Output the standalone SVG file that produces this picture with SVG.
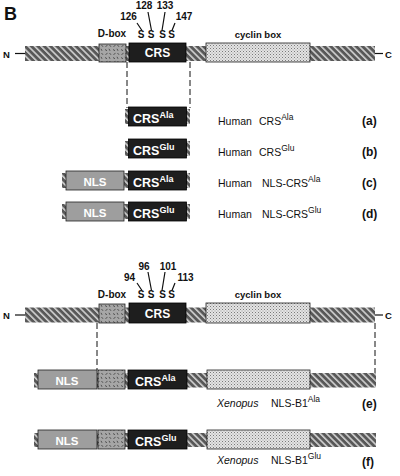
<svg xmlns="http://www.w3.org/2000/svg" width="400" height="476" viewBox="0 0 400 476">
<defs>
<pattern id="hatch" width="4.5" height="6" patternUnits="userSpaceOnUse" patternTransform="rotate(-45)">
<rect width="4.5" height="6" fill="#585858"/>
<rect width="1.6" height="6" fill="#d2d2d2"/>
</pattern>
<pattern id="dbox" width="8" height="8" patternUnits="userSpaceOnUse">
<rect width="8" height="8" fill="#a6a6a6"/>
<path d="M1 1.5l2 1.2M5 0.8l1 2M1.5 6.5l2-1.2M5.5 5l1.5 1.8" stroke="#3a3a3a" stroke-width="0.8" fill="none"/>
</pattern>
<pattern id="dots" width="3" height="3" patternUnits="userSpaceOnUse">
<rect width="3" height="3" fill="#e4e4e4"/>
<rect width="1" height="1" fill="#7a7a7a"/>
<rect x="1.5" y="1.5" width="1" height="1" fill="#9a9a9a"/>
</pattern>
</defs>
<style>
.bar{fill:url(#hatch)}
.db{fill:url(#dbox);stroke:#222;stroke-width:0.8}
.cy{fill:url(#dots);stroke:#222;stroke-width:0.8}
.crs{fill:#1e1e1e;stroke:#000;stroke-width:0.8}
.nls{fill:#9e9e9e;stroke:#222;stroke-width:0.8}
.wt{font-family:"Liberation Sans",Arial,sans-serif;font-weight:bold;fill:#fff}
.bt{font-family:"Liberation Sans",Arial,sans-serif;font-weight:bold;fill:#111}
.rt{font-family:"Liberation Sans",Arial,sans-serif;font-size:10.5px;fill:#111}
.ln{stroke:#111;stroke-width:1.2;fill:none}
.dash{stroke:#111;stroke-width:1;stroke-dasharray:6 3;fill:none}
</style>
<text class="bt" x="4" y="20" font-size="18">B</text>
<g id="human-cyclin">
<line class="ln" x1="15" y1="53.5" x2="25" y2="53.5"/>
<text class="bt" x="3" y="57.5" font-size="9.5">N</text>
<rect class="bar" x="25" y="46" width="350" height="15"/>
<line class="ln" x1="375" y1="53.5" x2="383" y2="53.5"/>
<text class="bt" x="385" y="57.5" font-size="9.5">C</text>
<rect class="db" x="99" y="44" width="27" height="18"/>
<rect class="crs" x="129" y="43" width="57" height="19"/>
<text class="wt" x="157.5" y="57" font-size="12" text-anchor="middle">CRS</text>
<rect class="cy" x="206" y="43" width="104" height="19"/>
<text class="bt" x="112" y="37" font-size="10" text-anchor="middle">D-box</text>
<text class="bt" x="258" y="38" font-size="9.5" text-anchor="middle">cyclin box</text>
<g class="bt" font-size="10" text-anchor="middle">
<text x="141" y="38">S</text><text x="151" y="38">S</text><text x="162.5" y="38">S</text><text x="171.5" y="38">S</text>
<text x="128.5" y="20">126</text><text x="144" y="9">128</text><text x="165" y="9">133</text><text x="184" y="20">147</text>
</g>
<path class="ln" d="M137 23L142 30.5M148 12L151.5 30.5M165 12L162 30.5M175 23L172 30.5"/>
</g>
<g id="row-a">
<rect class="bar" x="125" y="109" width="4" height="15"/>
<rect class="bar" x="186" y="109" width="4" height="15"/>
<rect class="crs" x="128.5" y="107" width="58" height="19"/>
<text class="wt" x="133" y="123" font-size="12.5">CRS<tspan dy="-5" font-size="9">Ala</tspan></text>
<text class="rt" x="218" y="125">Human<tspan x="259">CRS</tspan><tspan dy="-5" font-size="8.5">Ala</tspan></text>
<text class="bt" x="362" y="125" font-size="12">(a)</text>
</g>
<g id="row-b">
<rect class="bar" x="125" y="141" width="4" height="15"/>
<rect class="bar" x="186" y="141" width="4" height="15"/>
<rect class="crs" x="128.5" y="139" width="58" height="19"/>
<text class="wt" x="133" y="155" font-size="12.5">CRS<tspan dy="-5" font-size="9">Glu</tspan></text>
<text class="rt" x="218" y="156">Human<tspan x="259">CRS</tspan><tspan dy="-5" font-size="8.5">Glu</tspan></text>
<text class="bt" x="362" y="156" font-size="12">(b)</text>
</g>
<g id="row-c">
<rect class="bar" x="62" y="173" width="128" height="15"/>
<rect class="nls" x="66" y="171" width="58" height="19"/>
<text class="wt" x="95" y="185.5" font-size="11.5" text-anchor="middle">NLS</text>
<rect class="crs" x="128.5" y="171" width="58" height="19"/>
<text class="wt" x="133" y="187" font-size="12.5">CRS<tspan dy="-5" font-size="9">Ala</tspan></text>
<text class="rt" x="218" y="187">Human<tspan x="262">NLS-CRS</tspan><tspan dy="-5" font-size="8.5">Ala</tspan></text>
<text class="bt" x="362" y="187" font-size="12">(c)</text>
</g>
<g id="row-d">
<rect class="bar" x="62" y="204" width="128" height="15"/>
<rect class="nls" x="66" y="202" width="58" height="19"/>
<text class="wt" x="95" y="216.5" font-size="11.5" text-anchor="middle">NLS</text>
<rect class="crs" x="128.5" y="202" width="58" height="19"/>
<text class="wt" x="133" y="218" font-size="12.5">CRS<tspan dy="-5" font-size="9">Glu</tspan></text>
<text class="rt" x="218" y="218">Human<tspan x="262">NLS-CRS</tspan><tspan dy="-5" font-size="8.5">Glu</tspan></text>
<text class="bt" x="362" y="218" font-size="12">(d)</text>
</g>
<g id="xenopus-cyclin">
<line class="ln" x1="15" y1="315" x2="25" y2="315"/>
<text class="bt" x="3" y="319" font-size="9.5">N</text>
<rect class="bar" x="25" y="307.5" width="350" height="15"/>
<line class="ln" x1="375" y1="315" x2="383" y2="315"/>
<text class="bt" x="385" y="319" font-size="9.5">C</text>
<rect class="db" x="99" y="304" width="26" height="19"/>
<rect class="crs" x="129" y="303" width="57" height="20"/>
<text class="wt" x="157.5" y="318" font-size="12" text-anchor="middle">CRS</text>
<rect class="cy" x="206" y="303" width="104" height="20"/>
<text class="bt" x="112" y="298" font-size="10" text-anchor="middle">D-box</text>
<text class="bt" x="258" y="298" font-size="9.5" text-anchor="middle">cyclin box</text>
<g class="bt" font-size="10" text-anchor="middle">
<text x="141" y="298">S</text><text x="151" y="298">S</text><text x="162.5" y="298">S</text><text x="171.5" y="298">S</text>
<text x="129.5" y="281">94</text><text x="144" y="270">96</text><text x="168" y="270">101</text><text x="185.5" y="281">113</text>
</g>
<path class="ln" d="M137 283L142 290.5M148 272L151.5 290.5M165 272L162 290.5M175 283L172 290.5"/>
</g>
<g id="row-e">
<rect class="bar" x="34" y="373" width="342" height="14.5"/>
<rect class="nls" x="38" y="370" width="59" height="19"/>
<text class="wt" x="67" y="384.5" font-size="11.5" text-anchor="middle">NLS</text>
<rect class="db" x="98" y="370" width="27" height="19"/>
<rect class="crs" x="128" y="370" width="59" height="19"/>
<text class="wt" x="135" y="386" font-size="12.5">CRS<tspan dy="-5" font-size="9">Ala</tspan></text>
<rect class="cy" x="207" y="370" width="103" height="19"/>
<text class="rt" x="217" y="407"><tspan font-style="italic">Xenopus</tspan><tspan x="271">NLS-B1</tspan><tspan dy="-5" font-size="8.5">Ala</tspan></text>
<text class="bt" x="362" y="408" font-size="12">(e)</text>
</g>
<g id="row-f">
<rect class="bar" x="34" y="433" width="342" height="14"/>
<rect class="nls" x="38" y="430" width="59" height="19"/>
<text class="wt" x="67" y="444.5" font-size="11.5" text-anchor="middle">NLS</text>
<rect class="db" x="98" y="430" width="27" height="19"/>
<rect class="crs" x="128" y="430" width="59" height="19"/>
<text class="wt" x="135" y="446" font-size="12.5">CRS<tspan dy="-5" font-size="9">Glu</tspan></text>
<rect class="cy" x="207" y="430" width="103" height="19"/>
<text class="rt" x="217" y="464"><tspan font-style="italic">Xenopus</tspan><tspan x="271">NLS-B1</tspan><tspan dy="-5" font-size="8.5">Glu</tspan></text>
<text class="bt" x="362" y="466" font-size="12">(f)</text>
</g>
<g id="connectors">
<line class="dash" x1="127" y1="62" x2="127" y2="108"/>
<line class="dash" x1="190" y1="62" x2="190" y2="108"/>
<line class="dash" x1="97" y1="323" x2="97" y2="370"/>
<line class="dash" x1="375" y1="323" x2="375" y2="373"/>
</g>
</svg>
